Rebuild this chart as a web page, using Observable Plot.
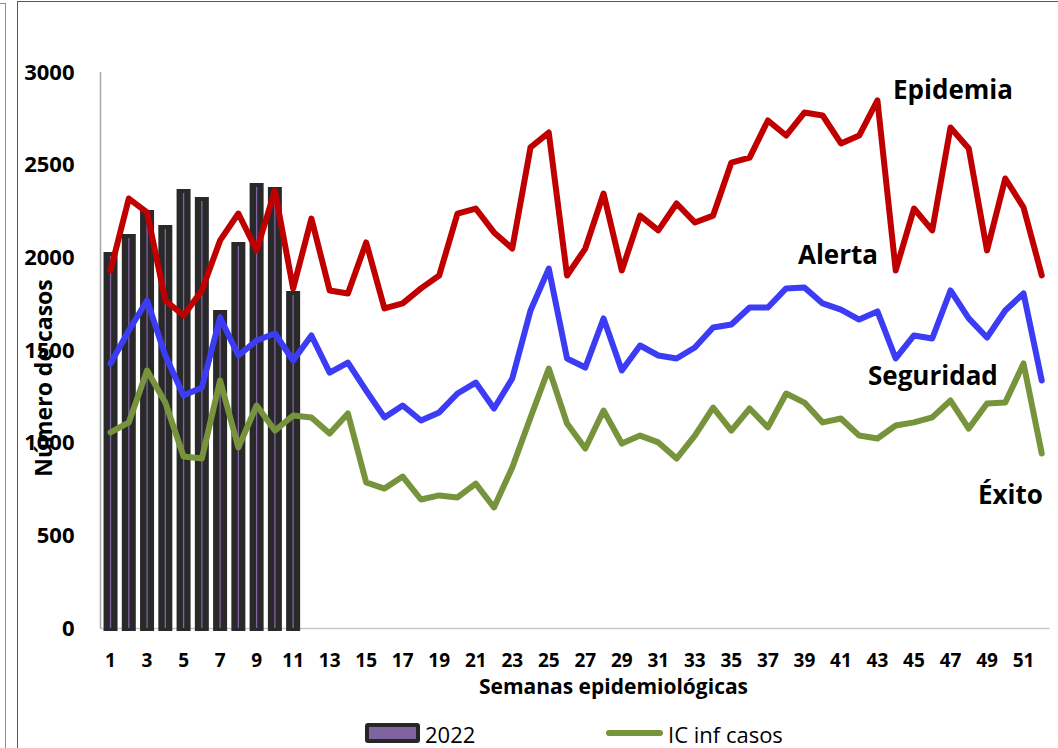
<!DOCTYPE html>
<html><head><meta charset="utf-8">
<script src="https://cdn.jsdelivr.net/npm/d3@7"></script>
<script src="https://cdn.jsdelivr.net/npm/@observablehq/plot@0.6"></script>
<style>
html,body{margin:0;padding:0;background:#fff;}
#wrap{position:relative;width:1058px;height:748px;overflow:hidden;font-family:'Open Sans',sans-serif;color:#000;}
.t{position:absolute;line-height:1;white-space:nowrap;}
.b{font-weight:700;}
#chart{position:absolute;left:0;top:0;}
#chart g[aria-label^="x-axis"] text{font-size:19px;}
</style></head><body>
<div id="wrap">
  <div style="position:absolute;left:-10px;top:3px;width:15px;height:800px;border-top:1.5px solid #8c8c8c;border-right:1.5px solid #8c8c8c;"></div>
  <div style="position:absolute;left:17px;top:1px;width:1100px;height:800px;border-left:1.5px solid #595959;border-top:1.5px solid #595959;"></div>
  <div id="chart"></div>
  <div class="t b" style="left:893px;top:76px;font-size:26px;">Epidemia</div>
  <div class="t b" style="left:798px;top:241px;font-size:26px;">Alerta</div>
  <div class="t b" style="left:868px;top:362px;font-size:26px;">Seguridad</div>
  <div class="t b" style="left:978px;top:481px;font-size:26px;">Éxito</div>
  <div class="t b" style="left:613.5px;top:676px;font-size:21px;transform:translateX(-50%);">Semanas epidemiológicas</div>
  <div class="t b" style="left:43px;top:378px;font-size:23px;transform:translate(-50%,-50%) rotate(-90deg);">Número de casos</div>
  <div style="position:absolute;left:365px;top:723px;width:55px;height:20px;box-sizing:border-box;border:4px solid #262626;background:#8064a2;border-radius:3px;"></div>
  <div class="t" style="left:425px;top:722.5px;font-size:22px;">2022</div>
  <div style="position:absolute;left:606px;top:730px;width:57px;height:6px;background:#77933c;border-radius:3px;"></div>
  <div class="t" style="left:668px;top:722.5px;font-size:22px;">IC inf casos</div>
</div>
<script>
const semanas = [1,2,3,4,5,6,7,8,9,10,11,12,13,14,15,16,17,18,19,20,21,22,23,24,25,26,27,28,29,30,31,32,33,34,35,36,37,38,39,40,41,42,43,44,45,46,47,48,49,50,51,52];
const casos2022 = [2029,2126,2255,2174,2369,2326,1716,2083,2401,2380,1818];
const epidemia = [1932,2320,2245,1770,1689,1824,2094,2239,2040,2363,1834,2212,1824,1808,2083,1727,1754,1835,1905,2239,2266,2137,2050,2596,2676,1905,2050,2347,1932,2228,2148,2293,2191,2228,2514,2541,2741,2660,2784,2768,2617,2660,2849,1932,2266,2148,2703,2590,2040,2428,2272,1905];
const alerta = [1430,1608,1770,1473,1257,1300,1678,1473,1554,1592,1446,1581,1381,1435,1284,1139,1203,1122,1166,1268,1327,1187,1349,1716,1942,1457,1408,1673,1392,1527,1473,1457,1516,1624,1640,1732,1732,1835,1840,1754,1721,1667,1711,1457,1581,1565,1824,1673,1570,1716,1808,1338];
const icInf = [1058,1112,1392,1219,928,917,1338,977,1203,1068,1149,1139,1052,1160,788,755,820,696,718,707,782,653,869,1139,1403,1106,971,1176,998,1041,1004,917,1041,1192,1068,1187,1085,1268,1219,1112,1133,1041,1025,1095,1112,1139,1230,1079,1214,1219,1430,944];
const ticksX = [1,3,5,7,9,11,13,15,17,19,21,23,25,27,29,31,33,35,37,39,41,43,45,47,49,51];
const ticksY = [0,500,1000,1500,2000,2500,3000];
const xDominio = [0.45, 52.45];
const yDominio = [0, 3000];

const semBarras = semanas.slice(0, casos2022.length);

const chart = Plot.plot({
  width: 1058, height: 748,
  marginTop: 72, marginBottom: 120, marginLeft: 100, marginRight: 8.5,
  style: {fontFamily: "'Open Sans', sans-serif", fontSize: "22px", fontWeight: "bold", background: "transparent", color: "#000", overflow: "visible"},
  x: {type: "linear", domain: xDominio, ticks: ticksX, tickFormat: d => String(d), tickSize: 0, tickPadding: 25, label: null},
  y: {domain: yDominio, ticks: ticksY, tickFormat: d => String(d), tickSize: 0, tickPadding: 26, label: null},
  marks: [
    Plot.ruleY([0], {stroke: "#c8c8c8", strokeWidth: 1.5}),
    Plot.ruleX([xDominio[0]], {y1: yDominio[0], y2: yDominio[1], stroke: "#a6a6a6", strokeWidth: 1.5}),
    Plot.ruleX(semBarras, {x: d => d, y1: casos2022, y2: 0, stroke: "#292929", strokeWidth: 14, insetBottom: -3}),
    Plot.ruleX(semBarras, {x: d => d, y1: casos2022, y2: 0, stroke: "#8064a2", strokeWidth: 1.3, insetTop: 4}),
    Plot.lineY(epidemia, {x: semanas, stroke: "#c00000", strokeWidth: 6, strokeLinejoin: "round", strokeLinecap: "round"}),
    Plot.lineY(alerta, {x: semanas, stroke: "#3c3cf5", strokeWidth: 6, strokeLinejoin: "round", strokeLinecap: "round"}),
    Plot.lineY(icInf, {x: semanas, stroke: "#77933c", strokeWidth: 6, strokeLinejoin: "round", strokeLinecap: "round"})
  ]
});
document.getElementById("chart").appendChild(chart);
</script>
</body></html>
